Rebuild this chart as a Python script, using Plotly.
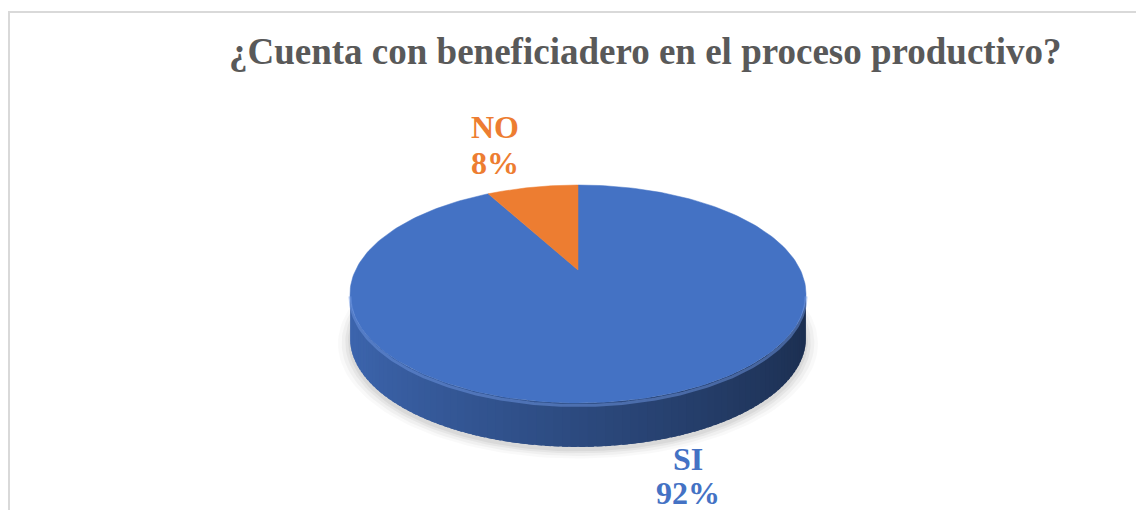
import numpy as np
import plotly.graph_objects as go

# ---- data ----
categories = ["SI", "NO"]
values = [92, 8]
slice_colors = ["#4472C4", "#ED7D31"]
title_text = "¿Cuenta con beneficiadero en el proceso productivo?"

# ---- 3D pie geometry (layout) ----
CX, CY = 578.0, 270.0     # projected centre of top face (pixels)
SX, SY = 222.4, 103.7     # horizontal / vertical radius scale
K = 0.22                  # perspective strength
DEPTH = 44.0              # thickness of the pie

def proj(phi_deg, r=1.0, dy=0.0):
    phi = np.radians(phi_deg)
    u = r * np.cos(phi)
    v = r * np.sin(phi)
    w = 1 + K * v
    return CX + SX * u / w, CY - SY * v / w + dy

def hex2rgb(h):
    h = h.lstrip("#")
    return tuple(int(h[i:i + 2], 16) for i in (0, 2, 4))

fig = go.Figure()

# slice angle ranges (start at 12 o'clock, clockwise)
total = sum(values)
ranges = []
start = 90.0
for val in values:
    end = start - val / total * 360.0
    ranges.append((end, start))
    start = end

def slice_of(phi):
    for i, (a, b) in enumerate(ranges):
        p = phi
        while p > b:
            p -= 360
        while p < a:
            p += 360
        if a <= p <= b:
            return i
    return 0

# shadow under the pie
for grow, alpha in [(1.05, 0.025), (1.035, 0.035), (1.02, 0.045), (1.008, 0.05)]:
    ph = np.linspace(0, 360, 200)
    xs, ys = proj(ph, r=grow, dy=DEPTH + 3)
    fig.add_trace(go.Scatter(x=xs, y=ys, fill="toself", mode="lines",
                             line=dict(width=0), fillcolor=f"rgba(0,0,0,{alpha})",
                             hoverinfo="skip", showlegend=False))

# side wall (front half) drawn as shaded strips
ext = np.degrees(np.arcsin(K))
phis = np.linspace(180 + ext, 360 - ext, 90)
for a, b in zip(phis[:-1], phis[1:]):
    seg = np.linspace(a - 0.6, b + 0.6, 4)
    seg = np.clip(seg, 180 + ext, 360 - ext)
    xt, yt = proj(seg)
    xb, yb = proj(seg[::-1], dy=DEPTH)
    mid = (a + b) / 2
    idx = slice_of(mid)
    base = hex2rgb(slice_colors[idx])
    u = np.cos(np.radians(mid))
    f = 0.9 - 0.25 * (u + 1)
    c = tuple(int(round(ch * f)) for ch in base)
    col = f"rgb{c}"
    fig.add_trace(go.Scatter(x=np.concatenate([xt, xb]), y=np.concatenate([yt, yb]),
                             fill="toself", mode="lines", line=dict(width=0),
                             fillcolor=col, hoverinfo="skip", showlegend=False))

# top faces
for i, (a, b) in enumerate(ranges):
    ph = np.linspace(a, b, 240)
    xs, ys = proj(ph)
    xs = np.concatenate([[CX], xs, [CX]])
    ys = np.concatenate([[CY], ys, [CY]])
    fig.add_trace(go.Scatter(x=xs, y=ys, fill="toself", mode="lines",
                             line=dict(width=0.5, color=slice_colors[i]),
                             fillcolor=slice_colors[i], name=categories[i],
                             hoverinfo="name", showlegend=False))

# bevel highlight along the front rim
ph = np.linspace(180 + ext, 360 - ext, 200)
xs, ys = proj(ph, dy=2.5)
fig.add_trace(go.Scatter(x=xs, y=ys, mode="lines", line=dict(width=3, color="rgba(110,150,225,0.5)"),
                         hoverinfo="skip", showlegend=False))

# ---- labels ----
label_pos = {"NO": (495, 127, 163), "SI": (688, 459, 493)}
annotations = []
for cat, val, col in zip(categories, values, slice_colors):
    lx, ly1, ly2 = label_pos[cat]
    for txt, ly in ((cat, ly1), (f"{val}%", ly2)):
        annotations.append(dict(x=lx, y=ly, xref="x", yref="y", text=f"<b>{txt}</b>",
                                showarrow=False, xanchor="center", yanchor="middle",
                                font=dict(family="Liberation Serif", size=32, color=col)))

annotations.append(dict(x=645, y=51, xref="x", yref="y", text=f"<b>{title_text}</b>",
                        showarrow=False, xanchor="center", yanchor="middle",
                        font=dict(family="Liberation Serif", size=37, color="#595959")))

fig.update_layout(
    width=1136, height=510,
    margin=dict(l=0, r=0, t=0, b=0),
    paper_bgcolor="white", plot_bgcolor="white",
    xaxis=dict(range=[0, 1136], visible=False, fixedrange=True),
    yaxis=dict(range=[510, 0], visible=False, fixedrange=True),
    annotations=annotations,
    shapes=[dict(type="rect", xref="x", yref="y", x0=9, y0=12, x1=1145, y1=520,
                 line=dict(color="#D9D9D9", width=2), layer="below")],
)

fig.write_html("out.html", post_script="document.body.style.margin='0';",
               config={"displayModeBar": False})
